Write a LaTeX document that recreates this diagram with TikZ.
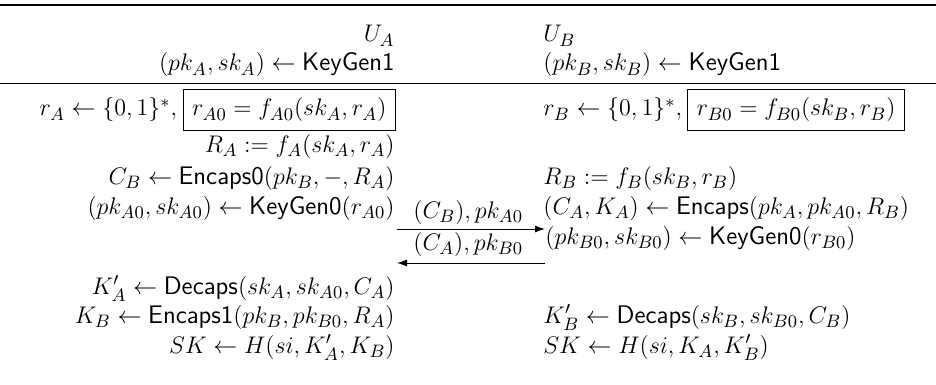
\documentclass[tikz,border=0pt]{standalone}
\usepackage{amsmath}
\usetikzlibrary{arrows.meta}
\newcommand{\alg}[1]{\textsf{#1}}
\begin{document}
\begin{tikzpicture}[x=0.5pt,y=-0.5pt,font=\fontsize{12.7}{15}\selectfont,
  lt/.style={anchor=base east,inner sep=0pt},
  rt/.style={anchor=base west,inner sep=0pt},
  msg/.style={anchor=base west,inner sep=0pt},
  boxed/.style={draw,line width=0.5pt,inner xsep=4.5pt,inner ysep=0pt,text height=13pt,text depth=7pt},
  arr/.style={-{Latex[length=5pt,width=3.5pt]},line width=0.5pt}]
\useasboundingbox (0,0) rectangle (936,385);
% rules
\coordinate (t0) at (0,5); \coordinate (t1) at (936,5);
\draw[line width=0.8pt] (t0) -- (t1);
\coordinate (m0) at (0,84); \coordinate (m1) at (936,84);
\draw[line width=0.5pt] (m0) -- (m1);
% headers
\node[lt] (ua) at (395,42) {$U_A$};
\node[rt] (ub) at (543,42) {$U_B$};
\node[lt] (kga) at (395,71) {$(pk_A, sk_A) \leftarrow \alg{KeyGen1}$};
\node[rt] (kgb) at (543,71) {$(pk_B, sk_B) \leftarrow \alg{KeyGen1}$};
% boxed rows
\node[boxed,anchor=base east] (bxa) at (396,116) {$r_{A0} = f_{A0}(sk_A, r_A)$};
\node[lt] (ra) at ([xshift=-2.5pt]bxa.west |- 0,116) {$r_A \leftarrow \{0,1\}^*,$};
\node[rt] (rb) at (543,116) {$r_B \leftarrow \{0,1\}^*,$};
\node[boxed,anchor=base west] (bxb) at ([xshift=2.5pt]rb.base east) {$r_{B0} = f_{B0}(sk_B, r_B)$};
% left column
\node[lt] (RA) at (395,152) {$R_A := f_A(sk_A, r_A)$};
\node[lt] (CB) at (395,184) {$C_B \leftarrow \alg{Encaps0}(pk_B, -, R_A)$};
\node[lt] (kg0a) at (395,214) {$(pk_{A0}, sk_{A0}) \leftarrow \alg{KeyGen0}(r_{A0})$};
\node[lt] (dca) at (395,294) {$K'_A \leftarrow \alg{Decaps}(sk_A, sk_{A0}, C_A)$};
\node[lt] (eca) at (395,323) {$K_B \leftarrow \alg{Encaps1}(pk_B, pk_{B0}, R_A)$};
\node[lt] (ska) at (395,353) {$SK \leftarrow H(si, K'_A, K_B)$};
% right column
\node[rt] (RB) at (543,184) {$R_B := f_B(sk_B, r_B)$};
\node[rt] (enb) at (543,214) {$(C_A, K_A) \leftarrow \alg{Encaps}(pk_A, pk_{A0}, R_B)$};
\node[rt] (kg0b) at (545,244) {$(pk_{B0}, sk_{B0}) \leftarrow \alg{KeyGen0}(r_{B0})$};
\node[rt] (dcb) at (543,323) {$K'_B \leftarrow \alg{Decaps}(sk_B, sk_{B0}, C_B)$};
\node[rt] (skb) at (543,353) {$SK \leftarrow H(si, K_A, K'_B)$};
% messages
\coordinate (a1s) at (397,229); \coordinate (a1e) at (545,229);
\coordinate (a2s) at (545,263); \coordinate (a2e) at (397,263);
\node[msg] (m1l) at (413,218) {$(C_B), pk_{A0}$};
\node[msg] (m2l) at (413,250) {$(C_A), pk_{B0}$};
\draw[arr] (a1s) -- (a1e);
\draw[arr] (a2s) -- (a2e);
\end{tikzpicture}
\end{document}
